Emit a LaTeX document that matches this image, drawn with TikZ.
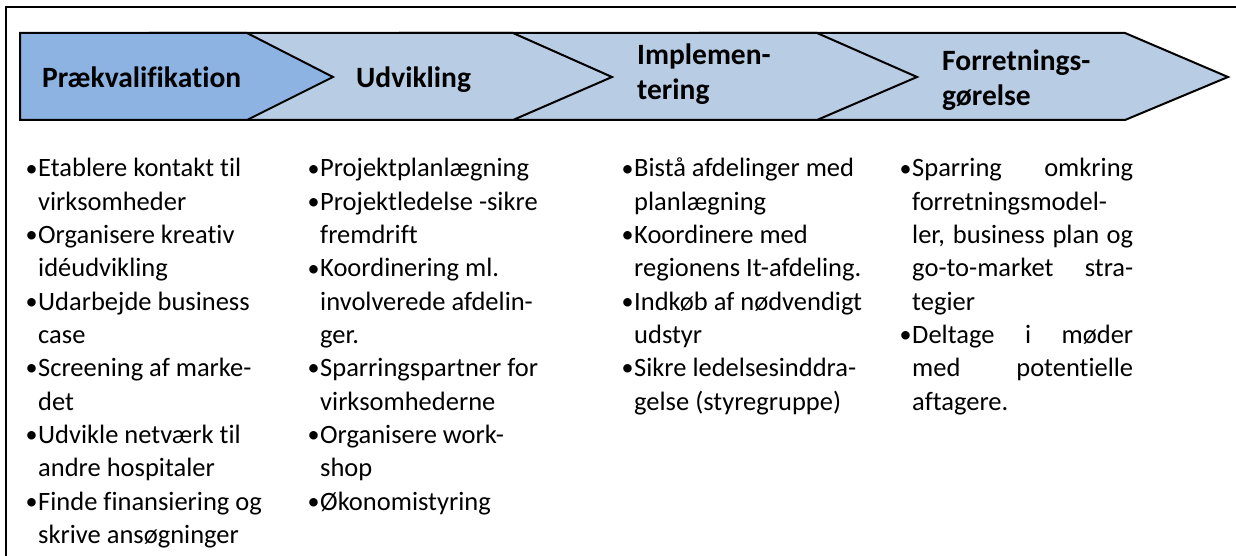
\documentclass[tikz,border=0pt]{standalone}
\usepackage{fontspec}
\setmainfont{Carlito}[Ligatures=NoCommon]
\definecolor{fasemork}{HTML}{8DB3E2}
\definecolor{faselys}{HTML}{B8CCE4}
\newcommand{\pkt}{\makebox[12.5pt][l]{\raisebox{0.8pt}{\fontsize{24}{24}\selectfont•}}}
\newcommand{\just}[1]{\makebox[221pt][s]{#1}}

\begin{document}
\begin{tikzpicture}[x=1pt,y=-1pt,
  fase/.style={draw=black,line width=2pt,line join=miter},
  overskrift/.style={anchor=base west,inner sep=0pt,font=\fontsize{29.5}{35}\selectfont\bfseries},
  punkter/.style={anchor=base west,inner sep=0pt,font=\fontsize{26.5}{33.3}\selectfont}
]
  \useasboundingbox (0,0) rectangle (1236,556);
  \draw[line width=2pt] (6,556) -- (6,7.5) -- (1236,7.5);
  % chevrons, back to front
  \foreach \l/\s/\t in {700/1125/1228,400/817/917,150/513/612}
    \draw[fase,fill=faselys] (\l,33) -- (\s,33) -- (\t,77) -- (\s,120) -- (\l,120) -- cycle;
  \draw[fase,fill=fasemork] (20,33) -- (247,33) -- (333,77) -- (247,120) -- (20,120) -- cycle;

  % phase titles
  \node[overskrift] (praek) at (42,88) {Prækvalifikation};
  \node[overskrift] (udv) at (356,88) {Udvikling};
  \node[overskrift] (impl) at (637,65) {\begin{tabular}[t]{@{}l@{}}Implemen-\\tering\end{tabular}};
  \node[overskrift] (forr) at (942,71) {\begin{tabular}[t]{@{}l@{}}Forretnings-\\gørelse\end{tabular}};

  % bullet lists
  \node[punkter] (liste1) at (25.5,177) {\begin{tabular}[t]{@{}l@{}l@{}}
    \pkt & Etablere kontakt til\\
         & virksomheder\\
    \pkt & Organisere kreativ\\
         & idéudvikling\\
    \pkt & Udarbejde business\\
         & case\\
    \pkt & Screening af marke-\\
         & det\\
    \pkt & Udvikle netværk til\\
         & andre hospitaler\\
    \pkt & Finde finansiering og\\
         & skrive ansøgninger
  \end{tabular}};
  \node[punkter] (liste2) at (307.5,177) {\begin{tabular}[t]{@{}l@{}l@{}}
    \pkt & Projektplanlægning\\
    \pkt & Projektledelse -sikre\\
         & fremdrift\\
    \pkt & Koordinering ml.\\
         & involverede afdelin-\\
         & ger.\\
    \pkt & Sparringspartner for\\
         & virksomhederne\\
    \pkt & Organisere work-\\
         & shop\\
    \pkt & Økonomistyring
  \end{tabular}};
  \node[punkter] (liste3) at (621.5,177) {\begin{tabular}[t]{@{}l@{}l@{}}
    \pkt & Bistå afdelinger med\\
         & planlægning\\
    \pkt & Koordinere med\\
         & regionens It-afdeling.\\
    \pkt & Indkøb af nødvendigt\\
         & udstyr\\
    \pkt & Sikre ledelsesinddra-\\
         & gelse (styregruppe)
  \end{tabular}};
  \node[punkter] (liste4) at (899.5,177) {\begin{tabular}[t]{@{}l@{}l@{}}
    \pkt & \just{Sparring omkring}\\
         & forretningsmodel-\\
         & \just{ler, business plan og}\\
         & \just{go-to-market stra-}\\
         & tegier\\
    \pkt & \just{Deltage i møder}\\
         & \just{med potentielle}\\
         & aftagere.
  \end{tabular}};
\end{tikzpicture}
\end{document}
